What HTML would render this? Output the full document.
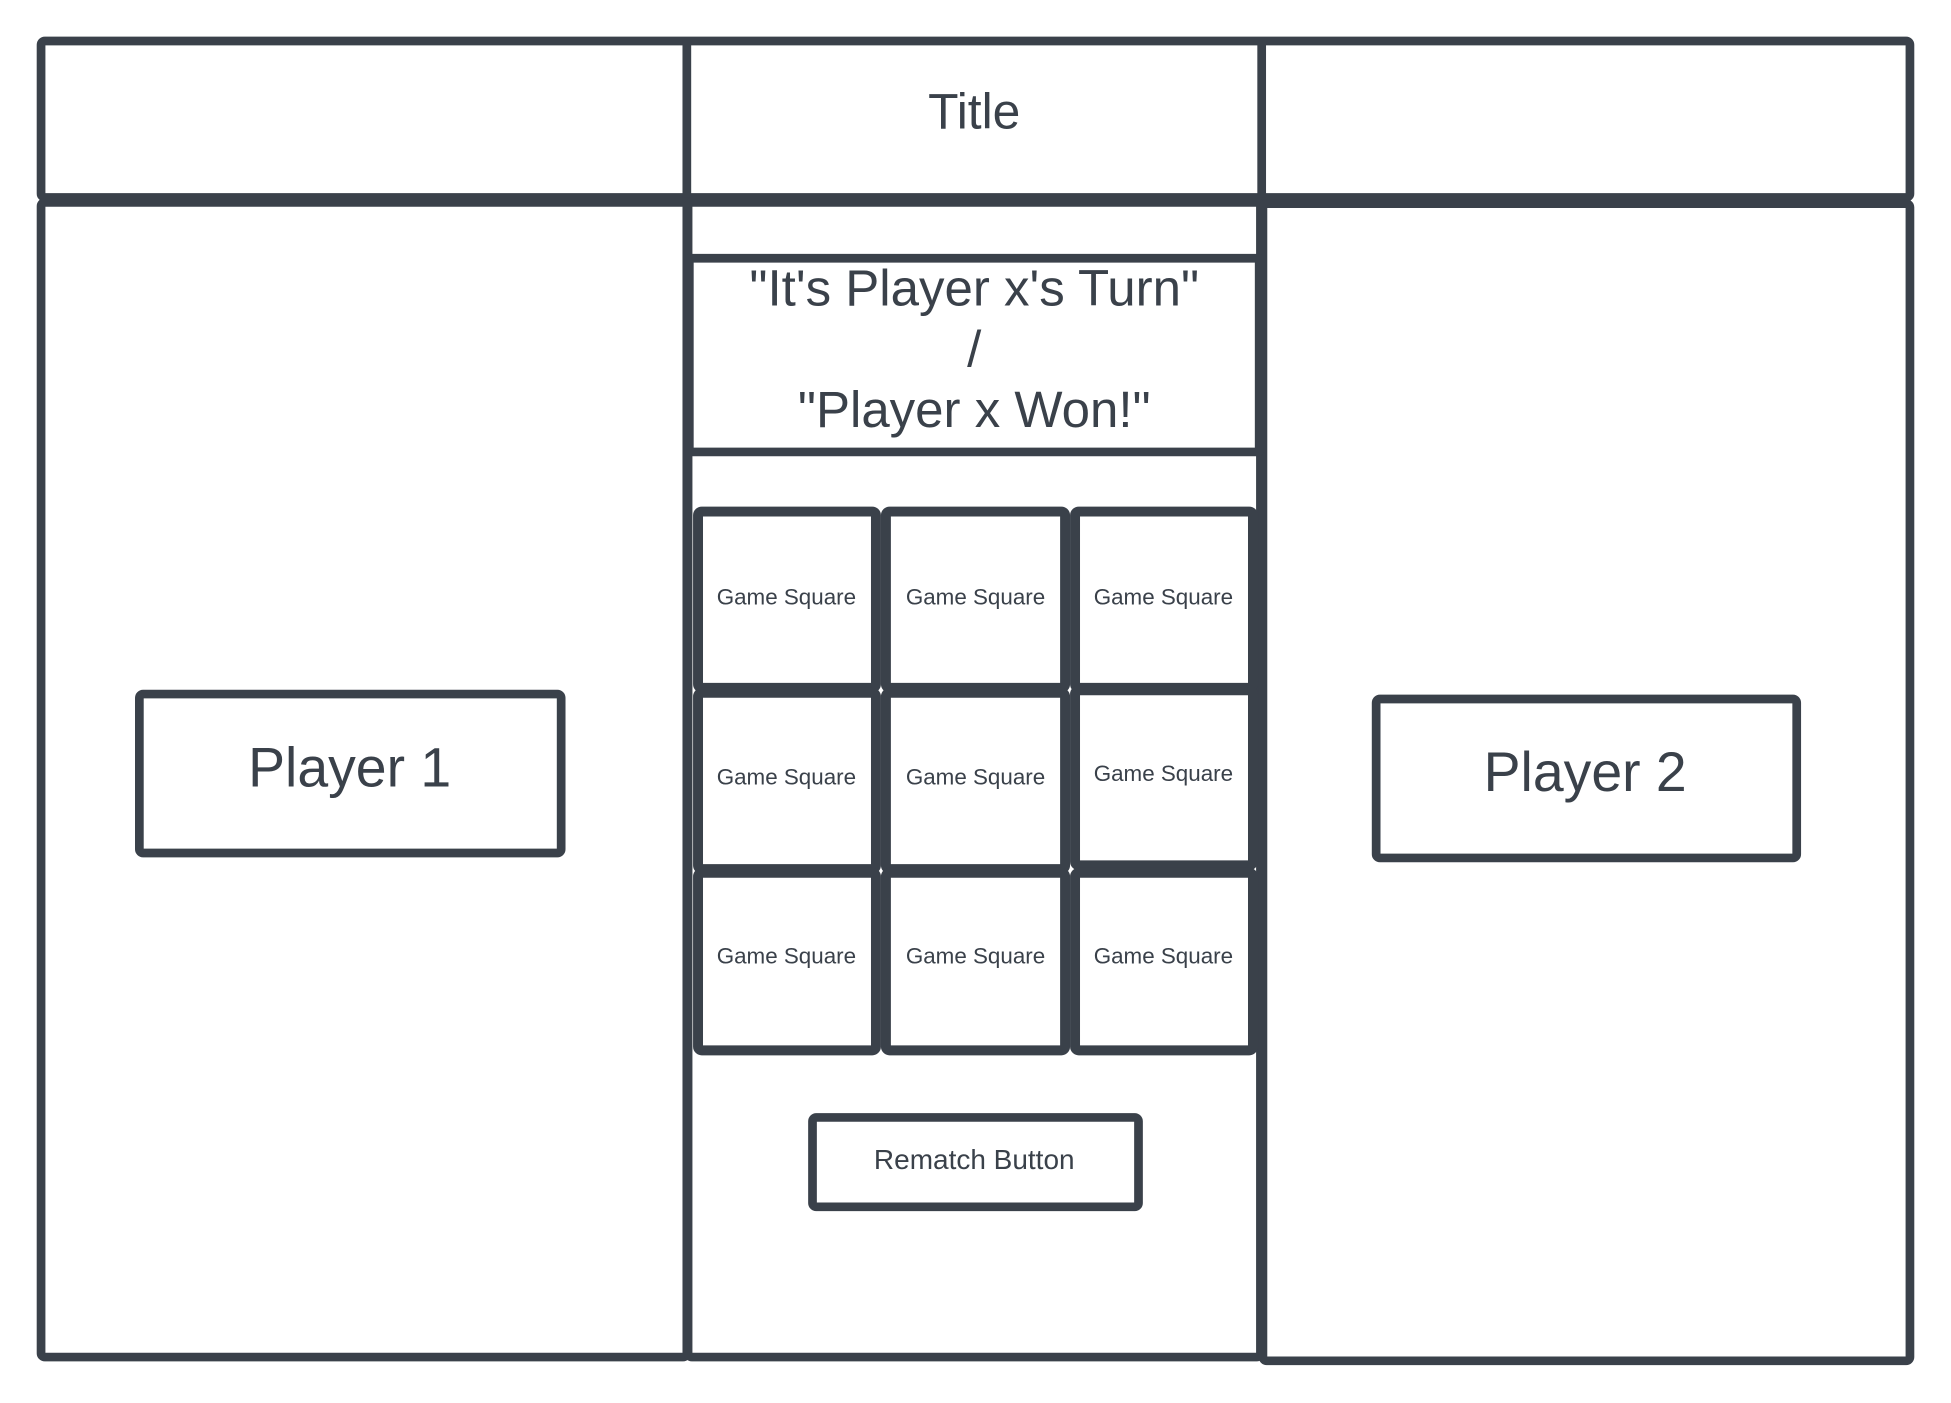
<!DOCTYPE html>
<html><head><meta charset="utf-8"><style>
html,body{margin:0;padding:0;background:#fff;}
svg{display:block;}
text{font-family:"Liberation Sans",sans-serif;fill:#3a414a;text-anchor:middle;dominant-baseline:central;}
</style></head><body>
<svg width="1951" height="1403" viewBox="0 0 1568 1130" preserveAspectRatio="none" xmlns="http://www.w3.org/2000/svg">
<rect width="1568" height="1130" fill="#fff"/>
<g fill="none" stroke="#3a414a" stroke-width="7" stroke-linejoin="round">
  <rect x="33" y="33" width="1502" height="126" rx="3"/>
  <line x1="552" y1="33" x2="552" y2="159"/>
  <line x1="1014" y1="33" x2="1014" y2="159"/>
  <rect x="33" y="163" width="519" height="930" rx="3"/>
  <rect x="553" y="163" width="460" height="930" rx="3"/>
  <rect x="1015" y="164" width="520" height="932" rx="3"/>
  <rect x="554" y="208" width="458" height="156"/>
  <rect x="112" y="559" width="339" height="128" rx="3"/>
  <rect x="1106" y="563" width="338" height="128" rx="3"/>
  <rect x="653" y="900" width="262" height="72" rx="3"/>
</g>
<g fill="none" stroke="#3a414a" stroke-width="8" stroke-linejoin="round">
  <rect x="561" y="412" width="143" height="142" rx="3"/>
  <rect x="712" y="412" width="144" height="142" rx="3"/>
  <rect x="864" y="412" width="143" height="142" rx="3"/>
  <rect x="561" y="558" width="143" height="142" rx="3"/>
  <rect x="712" y="558" width="144" height="142" rx="3"/>
  <rect x="864" y="556" width="143" height="141" rx="3"/>
  <rect x="561" y="703" width="143" height="143" rx="3"/>
  <rect x="712" y="703" width="144" height="143" rx="3"/>
  <rect x="864" y="703" width="143" height="143" rx="3"/>
</g>
<text x="783" y="90" font-size="40">Title</text>
<text x="783" y="232" font-size="41">"It's Player x's Turn"</text>
<text x="783" y="281" font-size="41">/</text>
<text x="783" y="330" font-size="41">"Player x Won!"</text>
<text x="281" y="618" font-size="44.5">Player 1</text>
<text x="1274" y="622" font-size="44.5">Player 2</text>
<text x="783" y="934" font-size="22.5">Rematch Button</text>
<g font-size="18">
<text x="632" y="481">Game Square</text>
<text x="784" y="481">Game Square</text>
<text x="935" y="481">Game Square</text>
<text x="632" y="626">Game Square</text>
<text x="784" y="626">Game Square</text>
<text x="935" y="623">Game Square</text>
<text x="632" y="770">Game Square</text>
<text x="784" y="770">Game Square</text>
<text x="935" y="770">Game Square</text>
</g>
</svg>
</body></html>
